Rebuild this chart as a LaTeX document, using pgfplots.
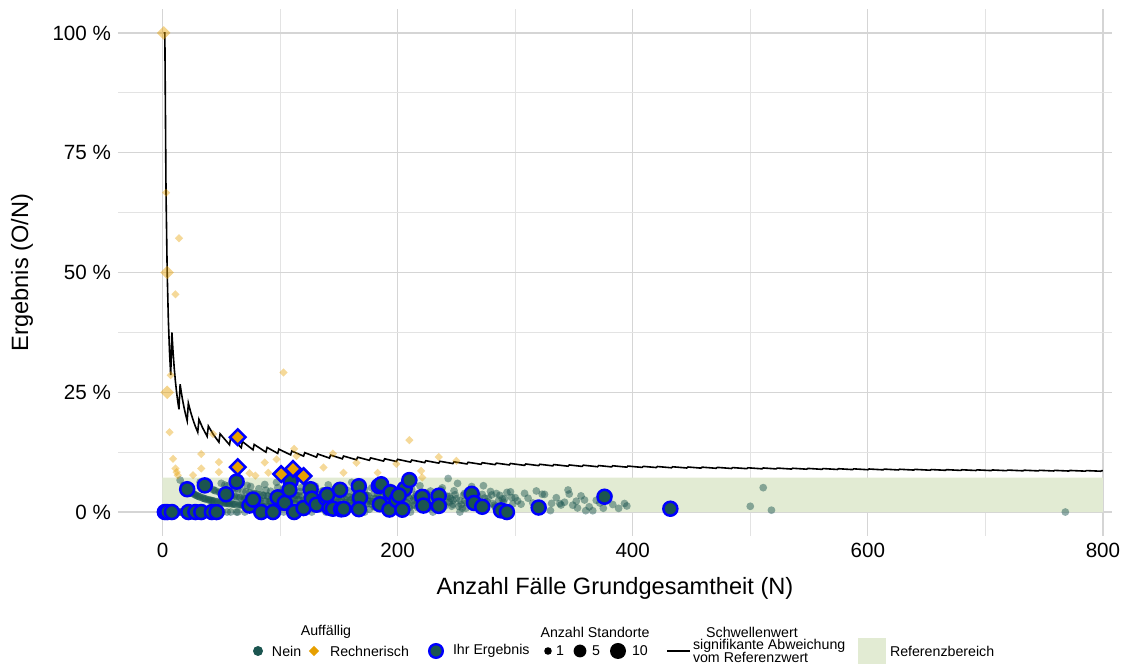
\documentclass[border=0pt]{standalone}
\usepackage{pgfplots}
\pgfplotsset{compat=1.18}
\usepackage{fontspec}
\setmainfont{Liberation Sans}
\definecolor{tealdk}{RGB}{27,85,80}
\definecolor{orng}{RGB}{230,159,0}
\definecolor{bandgreen}{RGB}{226,235,211}
\definecolor{blu}{RGB}{0,0,255}
\begin{document}
\begin{tikzpicture}
\begin{axis}[name=ax, scale only axis, width=497pt, height=263.5pt,
 xmin=-37.85, xmax=807.7, ymin=-5, ymax=105,
 xtick={0,200,400,600,800}, xticklabels={0,200,400,600,800},
 minor xtick={100,300,500,700},
 ytick={0,25,50,75,100}, yticklabels={0 \%,25 \%,50 \%,75 \%,100 \%},
 minor ytick={12.5,37.5,62.5,87.5},
 grid=both,
 major grid style={gray!33, line width=0.65pt},
 minor grid style={gray!22, line width=0.45pt},
 axis line style={draw=none},
 tick style={draw=none},
 tick label style={font=\fontsize{10.3}{12}\selectfont},
 label style={font=\fontsize{11.8}{14}\selectfont},
 xlabel={Anzahl Fälle Grundgesamtheit (N)},
 ylabel={Ergebnis (O/N)},
 xlabel style={at={(axis description cs:0.5,-0.0987)}, anchor=center},
 ylabel style={at={(axis description cs:-0.0966,0.5)}, anchor=center},
]
% reference band
\addplot[draw=none, fill=bandgreen, forget plot] coordinates {(0,0) (800,0) (800,7.2) (0,7.2) (0,0)};
% Nein (green, translucent)
\addplot[only marks, mark=*, mark size=1.95pt, mark options={draw opacity=0, fill=tealdk, fill opacity=0.47}, forget plot] coordinates {
(3,0)(5,0)(6,0)(7,0)(9,0)(10,0)(11,0)(12,0)(13,0)(14,0)(16,0)(17,0)(19,0)(20,0)(21,0)(24,0)(25,0)(26,0)(27,0)(29,0)(30,0)(31,0)(34,0)(35,0)(38,0)(40,0)(43,0)(45,0)(48,0)(51,0)(55,0)(58,0)(63,0)(64,0)(70,0)(80,0)(89,0)(97,0)(103,0)(116,0)(127,0)(139,0)(155,0)(172,0)(190,0)(211,0)(230,0)(253,0)
(15,6.67)(18,5.56)(20,5)(23,4.35)(24,4.17)(26,3.85)(28,3.57)(29,3.45)(31,3.23)(32,6.25)(32,3.13)(34,2.94)(36,2.78)(37,2.70)(38,5.26)(39,2.56)(40,2.5)(41,2.44)(42,2.38)(43,4.65)(44,2.27)(44,4.55)(46,2.17)(47,2.13)(48,4.17)(49,2.04)(50,2.0)(50,6.0)(51,3.92)(52,3.85)(53,1.89)(53,5.66)(55,5.45)(55,1.82)(56,1.79)(57,3.51)(58,3.45)(59,1.69)(60,5.0)(60,1.67)(61,3.28)(62,1.61)(62,4.84)(64,4.69)(65,1.54)(66,3.03)(66,1.52)(67,6.0)(68,1.47)(68,4.41)(69,2.90)(70,2.86)(71,4.23)(72,1.39)(72,5.56)(73,2.74)(74,4.05)(75,5.33)(76,1.32)(76,2.63)(78,3.85)(78,1.28)(79,2.53)(80,3.75)(81,1.23)(82,4.88)(82,2.44)(83,2.41)(84,1.19)(85,3.53)(86,1.16)(86,3.49)(87,5.75)(88,2.27)(88,4.55)(90,3.33)(90,1.11)(91,1.10)(92,4.35)(92,2.17)(93,2.15)(94,3.19)(95,1.05)(96,3.13)(96,1.04)(97,6.19)(98,5.1)(99,2.02)(100,4.0)(100,2.0)(101,0.99)(102,2.94)(102,0.98)(103,4.85)(104,3.85)(105,1.90)(106,2.83)(107,3.74)(108,0.93)(108,1.85)(110,2.73)(110,4.55)(111,5.41)(112,2.68)(113,1.77)(114,3.51)(114,0.88)(115,0.87)(116,2.59)(116,3.45)(117,4.27)(118,1.69)(118,5.08)(119,6.72)(120,2.5)(121,2.48)(122,0.82)(122,1.64)(123,3.25)(124,1.61)(124,4.03)(125,4.8)(126,3.17)(127,2.36)(128,0.78)(128,2.34)(129,3.10)(130,5.38)(130,1.54)(132,1.52)(132,3.79)(133,2.26)(134,3.73)(134,0.75)(135,0.74)(136,2.94)(136,4.41)(137,4.38)(138,1.45)(138,2.9)(140,2.14)(140,1.43)(141,5.67)(142,0.70)(142,3.52)(143,2.80)(144,3.47)(144,2.08)(146,1.37)(146,4.79)(147,4.08)(148,2.03)(148,1.35)(149,0.67)(150,3.33)(150,2.67)(152,2.63)(152,0.66)(153,1.31)(154,3.9)(155,4.52)(156,1.92)(156,2.56)(157,3.18)(158,0.63)(158,4.43)(160,2.5)(160,1.25)(161,6.21)(162,1.85)(162,3.09)(163,3.68)(164,2.44)(165,1.21)(166,4.22)(166,0.6)(168,1.79)(168,4.17)(170,2.94)(170,1.76)(171,0.58)(172,4.65)(172,2.91)(174,1.72)(174,3.45)(175,3.43)(176,0.57)(177,2.26)(178,5.06)(178,2.25)(180,1.11)(180,3.89)(181,2.76)(182,1.65)(183,3.83)(184,1.63)(184,2.72)(186,2.69)(186,4.3)(187,4.28)(188,1.6)(189,1.59)(190,3.16)(190,2.63)(192,2.08)(192,3.65)(194,5.15)(194,1.55)(195,1.03)(196,3.57)(196,2.55)(198,2.53)(198,4.04)(200,1.5)(201,4.48)(202,1.98)(203,2.96)(204,2.94)(205,0.98)(206,1.46)(207,3.86)(208,1.92)(208,3.85)(210,2.86)(210,0.95)(212,4.72)(213,2.35)(214,1.40)(215,3.26)(216,3.7)(217,2.30)(218,1.38)(219,5.48)(220,1.36)(221,2.71)(222,3.60)(224,4.02)(225,2.22)(226,1.77)(227,0.88)(228,4.39)(229,3.06)(230,2.61)(231,0.87)(232,1.72)(233,2.15)(234,3.42)(236,2.54)(237,4.64)(238,5.04)(239,1.67)(240,1.25)(242,3.31)(243,7.0)(244,2.05)(245,2.86)(246,1.22)(247,1.62)(248,4.44)(249,3.61)(250,2.8)(251,5.98)(253,2.37)(254,1.57)(255,0.78)(256,3.52)(257,3.89)(258,0.78)(259,1.93)(261,2.3)(262,2.67)(263,5.32)(264,4.55)(266,1.50)(267,2.62)(268,3.36)(269,1.12)(270,2.22)(272,3.68)(273,5.49)(275,1.09)(276,2.17)(277,2.89)(279,4.3)(280,3.57)(282,1.42)(283,1.06)(284,3.87)(286,2.45)(287,3.48)(288,1.04)(290,2.07)(291,2.75)(293,4.10)(294,0.68)(296,4.22)(297,3.03)(298,1.68)(300,3.0)(302,2.32)(305,1.64)(308,3.9)(311,2.89)(315,1.9)(318,4.4)(323,3.72)(325,3.69)(330,0.30)(331,1.81)(335,2.99)(338,1.78)(339,1.47)(342,2.05)(345,4.6)(346,3.76)(349,1.43)(352,2.27)(353,0.85)(356,3.37)(359,2.51)(360,0.28)(363,1.1)(366,0.27)(369,2.44)(372,1.88)(375,0.80)(380,3.42)(383,1.57)(388,0.77)(393,1.78)(395,1.27)
(15,0)(18,0)(22,4.55)(25,4.0)(27,3.7)(30,3.33)(33,0)(35,2.86)(37,0)(39,5.13)(41,0)(43,2.33)(45,4.44)(47,0)(49,4.08)(52,1.92)(54,1.85)(56,3.57)(57,1.75)(59,3.39)(61,1.64)(63,3.17)(65,3.08)(67,1.49)(69,1.45)(71,2.82)(73,1.37)(75,2.67)(77,3.9)(79,1.27)(81,2.47)(83,3.61)(85,1.18)(87,2.3)(89,3.37)(91,2.2)(93,3.23)(95,2.11)(97,1.03)(99,4.04)(101,2.97)(103,1.94)(105,3.81)(107,0.93)(109,2.75)(111,1.8)(113,3.54)(115,2.61)(117,1.71)(119,3.36)(121,0.83)(123,1.63)(125,2.4)(127,3.94)(129,1.55)(131,3.05)(133,0.75)(135,2.22)(137,2.92)(139,1.44)(141,2.84)(143,1.4)(145,3.45)(147,2.04)(149,2.68)(151,1.32)(153,3.27)(155,1.94)(157,0.64)(159,3.14)(161,1.86)(163,2.45)(165,3.64)(167,1.8)(169,2.96)(171,1.17)(173,3.47)(175,2.29)(177,1.69)(179,2.79)(181,1.1)(183,2.19)(185,3.24)(187,1.07)(189,2.65)(191,1.57)(193,3.11)(195,2.05)(197,1.02)(199,3.52)(201,1.99)(203,0.99)(205,2.93)(207,1.93)(209,3.35)(212,1.42)(214,2.8)(217,0.92)(219,2.74)(222,1.8)(224,2.68)(227,3.52)(229,1.31)(232,2.59)(235,1.7)(238,2.94)(241,2.07)(244,3.28)(247,2.43)(252,1.19)(257,2.33)(262,1.53)(268,2.24)(274,2.92)(281,1.78)(289,2.77)
(500,1.2)(511,5.09)(518,0.39)(768,0.0)
};
% Rechnerisch (orange, translucent)
\addplot[only marks, mark=square*, mark size=1.45pt, mark options={rotate=45, draw opacity=0, fill=orng, fill opacity=0.4}, forget plot] coordinates {
(3,66.67)(14,57.14)(11,45.45)(7,28.57)(6,16.67)(9,11.11)(11,9.09)(12,8.33)(13,7.69)(26,7.69)(33,12.12)(33,9.09)(43,16.28)(48,10.42)(48,8.33)(74,8.11)(79,7.59)(87,10.34)(90,8.22)(97,11.0)(103,29.13)(112,13.2)(114,11.7)(137,9.3)(145,12.2)(154,8.2)(165,10.3)(183,8.2)(199,10.05)(210,15.0)(220,8.6)(221,7.2)(235,11.5)(250,10.7)
};
\addplot[only marks, mark=square*, mark size=2.4pt, mark options={rotate=45, draw opacity=0, fill=orng, fill opacity=0.45}, forget plot] coordinates {
(1,100)(4,50)(4,25)
};
% threshold line
\addplot[black, line width=0.8pt, no marks, forget plot] coordinates {
(1,100)(2,100)(3,66.667)(4,50)(5,40)(6,33.333)(7,28.571)
(8,37.5)(9,33.333)(10,30)(11,27.273)(12,25)(13,23.077)(14,21.429)
(15,26.667)(16,25)(17,23.529)(18,22.222)(19,21.053)(20,20)(21,19.048)
(22,22.727)(24,20.833)(26,19.231)(28,17.857)(30,16.667)
(31,19.355)(34,17.647)(38,15.789)
(39,17.949)(43,16.279)(48,14.583)
(49,16.327)(57,14.035)(58,15.517)(67,13.433)(68,14.706)(77,12.987)
(78,14.103)(88,12.5)(89,13.483)(98,12.245)(99,13.131)(109,11.927)
(110,12.727)(120,11.667)(121,12.397)(131,11.450)(132,12.121)(142,11.268)
(143,11.888)(153,11.111)(154,11.688)(165,10.909)(166,11.446)(176,10.795)
(177,11.299)(188,10.638)(189,11.111)(199,10.553)(200,11.0)(211,10.427)
(212,10.849)(223,10.314)(224,10.714)(235,10.213)(236,10.593)(247,10.121)
(248,10.484)(259,10.039)(260,10.385)(271,9.963)(272,10.294)(283,9.894)
(284,10.211)(295,9.831)(296,10.135)(308,9.740)(309,10.032)(320,9.688)
(321,9.969)(332,9.639)(333,9.910)(345,9.565)(346,9.827)(357,9.524)
(358,9.777)(370,9.459)(371,9.704)(382,9.424)(383,9.661)(395,9.367)
(396,9.596)(408,9.314)(409,9.535)(420,9.286)(421,9.501)(433,9.238)
(434,9.447)(446,9.193)(447,9.396)(458,9.170)(459,9.368)(471,9.130)
(472,9.322)(484,9.091)(485,9.278)(497,9.054)(498,9.237)(510,9.020)
(511,9.198)(522,9.004)(523,9.178)(535,8.972)(536,9.142)(548,8.942)
(549,9.107)(561,8.913)(562,9.075)(574,8.885)(575,9.043)(587,8.859)
(588,9.014)(600,8.833)(601,8.985)(613,8.809)(614,8.958)(626,8.786)
(627,8.931)(639,8.764)(640,8.906)(653,8.729)(654,8.869)(666,8.709)
(667,8.846)(679,8.689)(680,8.824)(692,8.671)(693,8.802)(705,8.652)
(706,8.782)(718,8.635)(719,8.762)(732,8.607)(733,8.731)(745,8.591)
(746,8.713)(758,8.575)(759,8.696)(771,8.560)(772,8.679)(785,8.535)
(786,8.651)(798,8.521)(799,8.636)(800,8.625)
};
% Ihr Ergebnis
\addplot[only marks, mark=*, mark size=3.5pt, mark options={fill=tealdk, draw=blu, line width=1.25pt}, forget plot] coordinates {
(2,0)(4,0)(8,0)(22,0)(28,0)(33,0)(42,0)(46,0)
(21,4.76)(36,5.56)(54,3.70)(63,6.35)(74,1.35)(77,2.60)(84,0)(94,0)(98,3.06)(104,1.92)(112,0)(109,6.42)(108,4.63)(120,0.83)(126,4.76)(127,2.8)(131,1.53)(139,2.88)(142,0.9)(140,3.57)(145,0.69)(151,4.64)(152,0.56)(154,0.65)(167,5.39)(168,2.98)(167,0.60)(184,5.43)(186,5.8)(185,1.62)(193,0.52)(194,4.12)(199,2.51)(204,0.49)(206,4.85)(210,6.67)(201,3.48)(221,3.17)(222,1.35)(235,3.40)(235,1.28)(263,3.80)(265,1.89)(272,1.10)(288,0.35)(293,0)(320,0.94)(376,3.19)(432,0.69)
};
% Rechnerisch + Ihr Ergebnis
\addplot[only marks, mark=square*, mark size=2.76pt, mark options={rotate=45, fill=orng, draw=blu, line width=1.25pt}, forget plot] coordinates {
(64,15.63)(64,9.38)(101,7.92)(111,9.01)(120,7.5)
};
\end{axis}
% legend (drawn below the axis)
\begin{scope}[shift={(ax.south west)}, every node/.style={font=\fontsize{7.1}{7.5}\selectfont, inner sep=0pt, outer sep=0pt}]
\node[anchor=center] at (104pt,-48pt) {Auffällig};
\node[anchor=center] at (238.5pt,-48pt) {Anzahl Standorte};
\node[anchor=center] at (317pt,-48pt) {Schwellenwert};
\fill[tealdk] (70pt,-57.5pt) circle (2.5pt);
\node[anchor=west] at (77pt,-57.5pt) {Nein};
\fill[orng] (98pt,-54.9pt) -- (100.6pt,-57.5pt) -- (98pt,-60.1pt) -- (95.4pt,-57.5pt) -- cycle;
\node[anchor=west] at (106pt,-57.5pt) {Rechnerisch};
\filldraw[fill=tealdk, draw=blu, line width=1.2pt] (159pt,-57.5pt) circle (3.4pt);
\node[anchor=west] at (167.5pt,-57.5pt) {Ihr Ergebnis};
\fill[black] (215pt,-57.5pt) circle (1.9pt);
\node[anchor=west] at (219pt,-57.5pt) {1};
\fill[black] (231pt,-57.5pt) circle (3.2pt);
\node[anchor=west] at (237pt,-57.5pt) {5};
\fill[black] (250pt,-57.5pt) circle (4pt);
\node[anchor=west] at (257pt,-57.5pt) {10};
\draw[black, line width=0.7pt] (274.5pt,-57.5pt) -- (286pt,-57.5pt);
\node[anchor=west, align=left] at (287.5pt,-57.5pt) {signifikante Abweichung\\[-1.2pt]vom Referenzwert};
\fill[bandgreen] (370pt,-64pt) rectangle (384pt,-51pt);
\node[anchor=west] at (386pt,-57.5pt) {Referenzbereich};
\end{scope}
\pgfresetboundingbox
\path[use as bounding box] ([xshift=-59pt,yshift=-66pt]ax.south west) rectangle ([xshift=10pt,yshift=4.5pt]ax.north east);
\end{tikzpicture}
\end{document}
